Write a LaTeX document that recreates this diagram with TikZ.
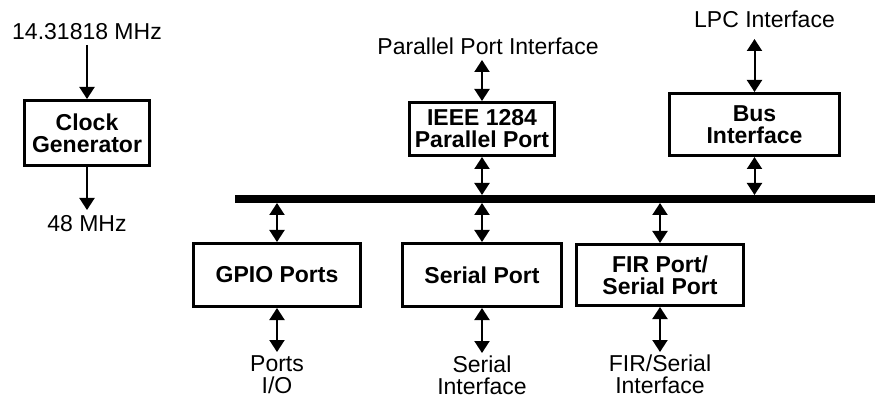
\documentclass[tikz,border=0pt]{standalone}
\usepackage{fontspec}
\setmainfont{Liberation Sans}
\usetikzlibrary{positioning,arrows.meta}

\begin{document}
\begin{tikzpicture} [x=1pt, y=-1pt, node distance=40pt, >={Triangle[length=12pt,width=15pt]},
                    font=\fontsize{23}{22}\selectfont,
                    box/.style={draw,line width=3pt,align=center,inner sep=0pt,font=\fontsize{23}{22}\selectfont\bfseries},
                    lbl/.style={inner sep=5pt,align=center},
                    bus/.style={fill,inner sep=0pt,outer sep=0pt,minimum width=640pt,minimum height=8pt}]
\useasboundingbox (0,0) rectangle (876,398);

\node[box, minimum width=125pt, minimum height=65pt] (CLK) at (87,133) {Clock\\Generator};
\node[box, minimum width=145pt, minimum height=53pt] (IEEE) at (482,129) {IEEE 1284\\Parallel Port};
\node[box, minimum width=170pt, minimum height=62pt] (BUSIF) at (754.5,124.5) {Bus\\Interface};
\node[bus] (BUS) at (555,199) {};
\node[box, minimum width=167pt, minimum height=63pt] (GPIO) at (277,275) {GPIO Ports};
\node[box, minimum width=159pt, minimum height=63pt] (SER) at (482,275) {Serial Port};
\node[box, minimum width=167pt, minimum height=61pt] (FIR) at (660,275) {FIR Port/\\Serial Port};

\node[lbl] (CLKIN) [above=54pt of CLK] {14.31818 MHz};
\node[lbl] (CLKOUT) [below=43pt of CLK] {48 MHz};
\node[lbl] (PPI) [above=41pt of IEEE, xshift=6pt] {Parallel Port Interface};
\node[lbl, inner ysep=11pt] (LPC) [above=53pt of BUSIF, xshift=10pt] {LPC Interface};
\node[lbl, inner ysep=3pt] (GPIOIO) [below=44pt of GPIO] {Ports\\I/O};
\node[lbl, inner ysep=3pt] (SERIF) [below=45pt of SER] {Serial\\Interface};
\node[lbl, inner ysep=3pt] (FIRIF) [below=45pt of FIR] {FIR/Serial\\Interface};

 \path[->, line width=2pt]
    (CLKIN) edge (CLK)
    (CLK) edge (CLKOUT);
 \path[<->, line width=2pt]
    (PPI.south -| IEEE.north) edge (IEEE.north)
    (IEEE.south) edge (IEEE.south |- BUS.north)
    (LPC.south -| BUSIF.north) edge (BUSIF.north)
    (BUSIF.south) edge (BUSIF.south |- BUS.north)
    (GPIO.north |- BUS.south) edge (GPIO.north)
    (SER.north |- BUS.south) edge (SER.north)
    (FIR.north |- BUS.south) edge (FIR.north)
    (GPIO.south) edge (GPIOIO.north -| GPIO.south)
    (SER.south) edge (SERIF.north -| SER.south)
    (FIR.south) edge (FIRIF.north -| FIR.south);
\end{tikzpicture}
\end{document}
